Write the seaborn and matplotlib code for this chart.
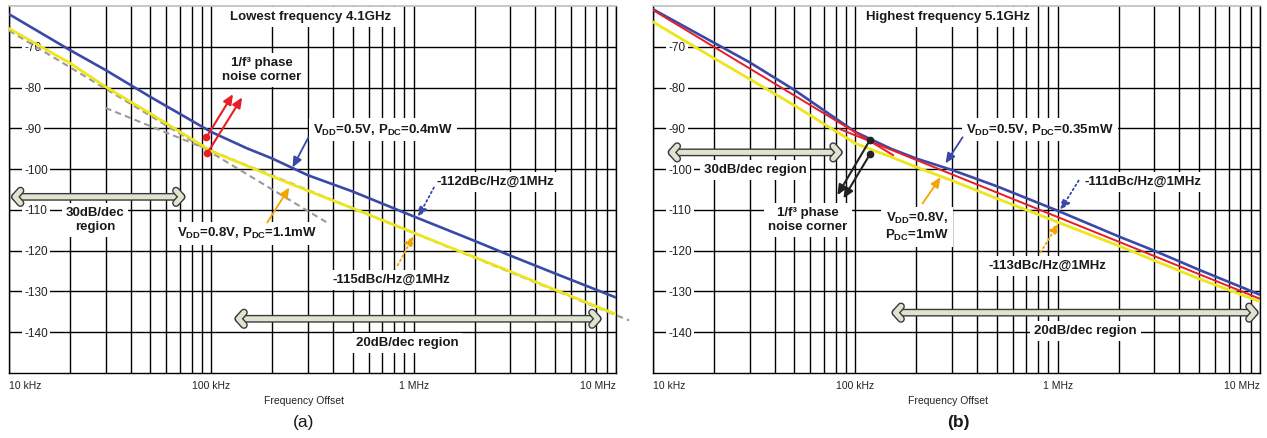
import numpy as np
import pandas as pd
import seaborn as sns
import matplotlib.pyplot as plt
import matplotlib.patheffects as pe
from matplotlib.patches import FancyArrowPatch
from matplotlib.ticker import LogLocator, NullFormatter

sns.set_theme(style='white')
plt.rcParams['font.family'] = ['Liberation Sans', 'DejaVu Sans']
plt.rcParams['mathtext.fontset'] = 'custom'
plt.rcParams['mathtext.rm'] = 'Liberation Sans:bold'
plt.rcParams['mathtext.default'] = 'rm'

# offset frequencies (Hz) where the traces were read
freq = [10e3, 20e3, 30e3, 50e3, 100e3, 150e3, 200e3, 300e3, 500e3,
        1e6, 2e6, 3e6, 5e6, 10e6]

# (a) lowest frequency 4.1GHz, phase noise in dBc/Hz
pn_a_05v = [-62.0, -70.8, -75.7, -82.3, -90.9, -94.9, -97.4, -101.5, -105.5,
            -111.6, -117.6, -121.2, -125.6, -131.5]
pn_a_08v = [-65.5, -74.0, -79.8, -86.4, -95.6, -99.2, -101.8, -105.3, -109.6,
            -115.6, -121.6, -125.1, -129.6, -135.6]
asym_a_30_f = [10e3, 370e3]
asym_a_30_db = [-66.0, -113.0]
asym_a_20_f = [30e3, 11.6e6]
asym_a_20_db = [-85.0, -137.1]

# (b) highest frequency 5.1GHz
pn_b_05v = [-60.8, -69.0, -73.8, -80.6, -90.9, -95.0, -97.4, -100.2, -104.2,
            -110.2, -116.5, -120.0, -124.7, -130.8]
pn_b_08v = [-63.9, -72.8, -77.9, -84.4, -93.7, -97.0, -99.5, -102.8, -107.2,
            -113.0, -118.8, -122.4, -126.9, -132.5]
asym_b_30_f = [10e3, 154e3]
asym_b_30_db = [-61.0, -96.6]
asym_b_20_f = [84e3, 10e6]
asym_b_20_db = [-90.2, -131.8]

xticks = [1e4, 1e5, 1e6, 1e7]
xtick_labels = ['10 kHz', '100 kHz', '1 MHz', '10 MHz']
yticks = [-70, -80, -90, -100, -110, -120, -130, -140]

BLUE = '#3a49a8'
YELLOW = '#eee51a'
RED = '#e61e28'
ORANGE = '#f5a300'
TXT = '#1a1a1a'
box = dict(boxstyle='square,pad=0.3', fc='white', ec='none')

W, H = 1267, 438
fig = plt.figure(figsize=(W / 100, H / 100), dpi=100)
ax_a = fig.add_axes([9 / W, 1 - 373 / H, 607 / W, 367 / H])
ax_b = fig.add_axes([653 / W, 1 - 373 / H, 607 / W, 367 / H])


def setup(ax):
    ax.set_xscale('log')
    ax.set_xlim(1e4, 1e7)
    ax.set_ylim(-150, -60)
    ax.set_axisbelow(True)
    ax.set_xticks(xticks, xtick_labels)
    ax.xaxis.set_minor_locator(LogLocator(base=10, subs=range(2, 10)))
    ax.xaxis.set_minor_formatter(NullFormatter())
    ax.set_yticks(yticks, [str(v) for v in yticks], ha='left',
                  bbox=dict(boxstyle='square,pad=0.2', fc='white', ec='none'))
    ax.tick_params(axis='x', which='both', length=0, pad=6, labelsize=7.5,
                   colors='#222222')
    ax.tick_params(axis='y', length=0, pad=-11, labelsize=8.5, colors='#222222')
    labels = ax.get_xticklabels()
    labels[0].set_ha('left')
    labels[-1].set_ha('right')
    ax.grid(True, which='both', axis='x', color='black', lw=1.0)
    ax.grid(True, which='major', axis='y', color='black', lw=1.0)
    for s in ['left', 'bottom', 'right']:
        ax.spines[s].set_color('black')
        ax.spines[s].set_linewidth(1.0)
    ax.spines['top'].set_color('#c0c0c0')
    ax.set_xlabel('Frequency Offset', fontsize=7.5, color='#222222')
    ax.set_ylabel('')


def block_arrow(ax, f0, f1, y):
    arr = FancyArrowPatch((f0, y), (f1, y),
                          arrowstyle='<->,head_length=0.4,head_width=0.45',
                          mutation_scale=10, color='#dfe4d0', lw=3.6,
                          shrinkA=0, shrinkB=0, zorder=6,
                          path_effects=[pe.Stroke(linewidth=5.6, foreground='#3a3a3a'),
                                        pe.Normal()])
    ax.add_patch(arr)


def arrow(ax, tail, head, color, ls='-', lw=1.3, dot=False):
    ax.annotate('', xy=head, xytext=tail, zorder=7,
                arrowprops=dict(arrowstyle='-|>,head_length=0.5,head_width=0.22',
                                color=color, lw=lw, linestyle=ls,
                                shrinkA=0, shrinkB=0))
    if dot:
        ax.plot([tail[0]], [tail[1]], 'o', color=color, ms=4.5, zorder=8)


def label(ax, x, y, s, size=9.5):
    ax.text(x, y, s, ha='center', va='center', fontsize=size,
            fontweight='bold', color=TXT, bbox=box, zorder=5, linespacing=1.25)


# ---------------- (a) ----------------
setup(ax_a)
ax_a.plot(asym_a_30_f, asym_a_30_db, ls=(0, (3, 2)), color='#9a9a9a', lw=1.5, zorder=3)
ax_a.plot(asym_a_20_f, asym_a_20_db, ls=(0, (3, 2)), color='#9a9a9a', lw=1.5,
          zorder=3, clip_on=False)
sns.lineplot(x=freq, y=pn_a_08v, ax=ax_a, color=YELLOW, lw=2.0, zorder=4)
sns.lineplot(x=freq, y=pn_a_05v, ax=ax_a, color=BLUE, lw=1.9, zorder=4)

label(ax_a, 311e3, -62.7, 'Lowest frequency 4.1GHz')
label(ax_a, 178e3, -75.7, '1/f³ phase\nnoise corner')
label(ax_a, 706e3, -90.4, r'V$_{DD}$=0.5V, P$_{DC}$=0.4mW')
label(ax_a, 2.52e6, -103.2, '-112dBc/Hz@1MHz')
label(ax_a, 26.6e3, -112.5, '30dB/dec\nregion')
label(ax_a, 150e3, -115.7, r'V$_{DD}$=0.8V, P$_{DC}$=1.1mW')
label(ax_a, 773e3, -127.2, '-115dBc/Hz@1MHz')
label(ax_a, 928e3, -142.6, '20dB/dec region')

arrow(ax_a, (94.5e3, -92.2), (128e3, -81.6), RED, lw=1.5, dot=True)
arrow(ax_a, (95.5e3, -96.1), (142e3, -82.4), RED, lw=1.5, dot=True)
arrow(ax_a, (302e3, -92.2), (252e3, -99.6), BLUE)
arrow(ax_a, (1.26e6, -104.5), (1.05e6, -111.8), BLUE, ls=':')
arrow(ax_a, (189e3, -113.1), (243e3, -104.5), ORANGE)
arrow(ax_a, (834e3, -123.6), (1.0e6, -116.3), ORANGE, ls=':')
block_arrow(ax_a, 10.3e3, 74e3, -106.8)
block_arrow(ax_a, 131e3, 8.43e6, -136.7)

# ---------------- (b) ----------------
setup(ax_b)
sns.lineplot(x=freq, y=pn_b_08v, ax=ax_b, color=YELLOW, lw=2.0, zorder=3)
sns.lineplot(x=freq, y=pn_b_05v, ax=ax_b, color=BLUE, lw=1.9, zorder=3)
ax_b.plot(asym_b_30_f, asym_b_30_db, color=RED, lw=1.4, zorder=4)
ax_b.plot(asym_b_20_f, asym_b_20_db, color=RED, lw=1.4, zorder=4)

label(ax_b, 287e3, -62.7, 'Highest frequency 5.1GHz')
label(ax_b, 31.9e3, -100.2, '30dB/dec region')
label(ax_b, 58.4e3, -112.5, '1/f³ phase\nnoise corner')
label(ax_b, 819e3, -90.4, r'V$_{DD}$=0.5V, P$_{DC}$=0.35mW')
label(ax_b, 2.64e6, -103.2, '-111dBc/Hz@1MHz')
label(ax_b, 202e3, -114.2, 'V$_{DD}$=0.8V,\nP$_{DC}$=1mW')
label(ax_b, 886e3, -123.8, '-113dBc/Hz@1MHz')
label(ax_b, 1.37e6, -139.7, '20dB/dec region')

arrow(ax_b, (118e3, -92.9), (81.5e3, -106.4), '#222222', lw=1.5, dot=True)
arrow(ax_b, (118e3, -96.4), (87.3e3, -107.2), '#222222', lw=1.5, dot=True)
arrow(ax_b, (339e3, -92.2), (279e3, -98.6), BLUE)
arrow(ax_b, (1.27e6, -102.8), (1.03e6, -110.1), BLUE, ls=':')
arrow(ax_b, (215e3, -108.4), (264e3, -102.0), ORANGE)
arrow(ax_b, (824e3, -120.4), (1.01e6, -113.3), ORANGE, ls=':')
block_arrow(ax_b, 11.9e3, 86e3, -95.9)
block_arrow(ax_b, 152e3, 9.77e6, -135.2)

for ax in (ax_a, ax_b):
    ax.xaxis.set_label_coords(0.486, -0.062)
    ax.xaxis.label.set_va('top')

fig.text(304 / W, 1 - 423 / H, '(a)', ha='center', va='center', fontsize=12.5, color=TXT)
fig.text(958 / W, 1 - 423 / H, '(b)', ha='center', va='center', fontsize=12.5,
         fontweight='bold', color=TXT)

fig.savefig('out.png', dpi=100)
